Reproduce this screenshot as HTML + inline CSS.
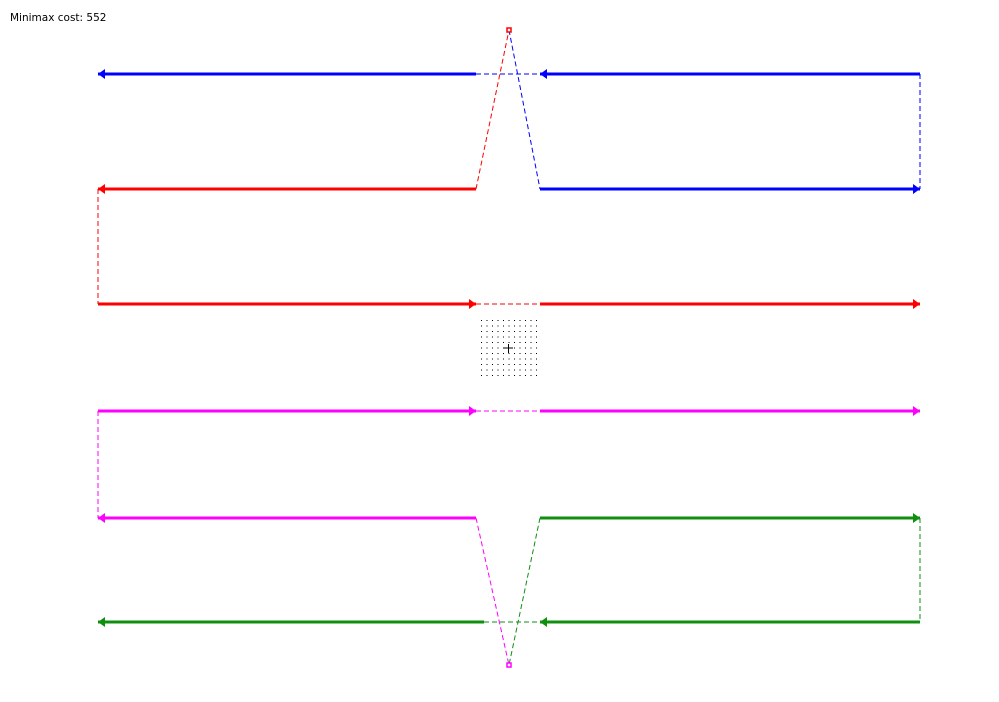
<!DOCTYPE html>
<html><head><meta charset="utf-8"><style>
html,body{margin:0;padding:0;background:#fff;width:999px;height:702px;overflow:hidden}
svg{display:block}
</style></head><body>
<svg id="chart" width="999" height="702" viewBox="0 0 999 702" xmlns="http://www.w3.org/2000/svg">
<text x="10" y="21" font-family="DejaVu Sans, Liberation Sans, sans-serif" font-size="10.5" fill="#000">Minimax cost: 552</text>
</svg>
<script>
// lane y values and segment x values (data)
const laneY = [74, 189, 304, 411, 518, 622];
const xs = { L0: 98, L1: 476, L1g: 484, R0: 540, R1: 920, C: 509 };
const colors = { blue: '#0000ff', red: '#ff0000', magenta: '#ff00ff', green: '#0f8f0f' };
// solid segments: [x1, x2, lane, color, arrowAt, direction]
const solidSegs = [
  ['L0','L1',0,'blue','L0',-1], ['R0','R1',0,'blue','R0',-1],
  ['R0','R1',1,'blue','R1',1], ['L0','L1',1,'red','L0',-1],
  ['L0','L1',2,'red','L1',1], ['R0','R1',2,'red','R1',1],
  ['L0','L1',3,'magenta','L1',1], ['R0','R1',3,'magenta','R1',1],
  ['L0','L1',4,'magenta','L0',-1], ['R0','R1',4,'green','R1',1],
  ['L0','L1g',5,'green','L0',-1], ['R0','R1',5,'green','R0',-1]
];
// dashed connections: [xa, ya, xb, yb, color]
const dashSegs = [
  ['L1',0,'R0',0,'blue'], ['R1',0,'R1',1,'blue'],
  ['L1',1,'C','top','red'], ['C','top','R0',1,'blue'],
  ['L0',1,'L0',2,'red'], ['L1',2,'R0',2,'red'],
  ['L1',3,'R0',3,'magenta'], ['L0',3,'L0',4,'magenta'],
  ['R1',4,'R1',5,'green'], ['L1g',5,'R0',5,'green'],
  ['L1',4,'C','bot','magenta'], ['R0',4,'C','bot','green']
];
const peaks = { top: 30, bot: 665 };
const markers = [['top','red'], ['bot','magenta']];
const gridN = 11;
const svg = document.getElementById('chart');
const NS = 'http://www.w3.org/2000/svg';
function X(k){ return xs[k]; }
function Y(v){ return typeof v === 'number' ? laneY[v] : peaks[v]; }
function mk(tag, attrs){ const e = document.createElementNS(NS, tag); for (const k in attrs) e.setAttribute(k, attrs[k]); svg.appendChild(e); return e; }
dashSegs.forEach(d => {
  const e = mk('line', {x1:X(d[0]), y1:Y(d[1]), x2:X(d[2]), y2:Y(d[3]), stroke:colors[d[4]], 'stroke-width':1, 'stroke-dasharray':'5,3'});
  
  
});
solidSegs.forEach(s => {
  const y = laneY[s[2]];
  const e = mk('line', {x1:X(s[0]), y1:y, x2:X(s[1]), y2:y, stroke:colors[s[3]], 'stroke-width':3});
  
  
  const ax = X(s[4]), dir = s[5];
  const a = mk('polygon', {points:`${ax},${y} ${ax-7*dir},${y-5} ${ax-7*dir},${y+5}`, fill:colors[s[3]]});
  
  
});
markers.forEach(m => {
  const r = mk('rect', {x:xs.C-2, y:peaks[m[0]]-2, width:4, height:4, fill:'#fff', stroke:colors[m[1]], 'stroke-width':1.5});
  
  
});
for (let i = 0; i < gridN; i++) for (let j = 0; j < gridN; j++) {
  const d = mk('rect', {x:481 + i*5.5, y:320 + j*5.5, width:1, height:1, fill:'#000'});
  
  
}
const c1 = mk('path', {d:'M504,348 H513 M508.5,344 V353', stroke:'#000', 'stroke-width':1});


</script>
</body></html>
